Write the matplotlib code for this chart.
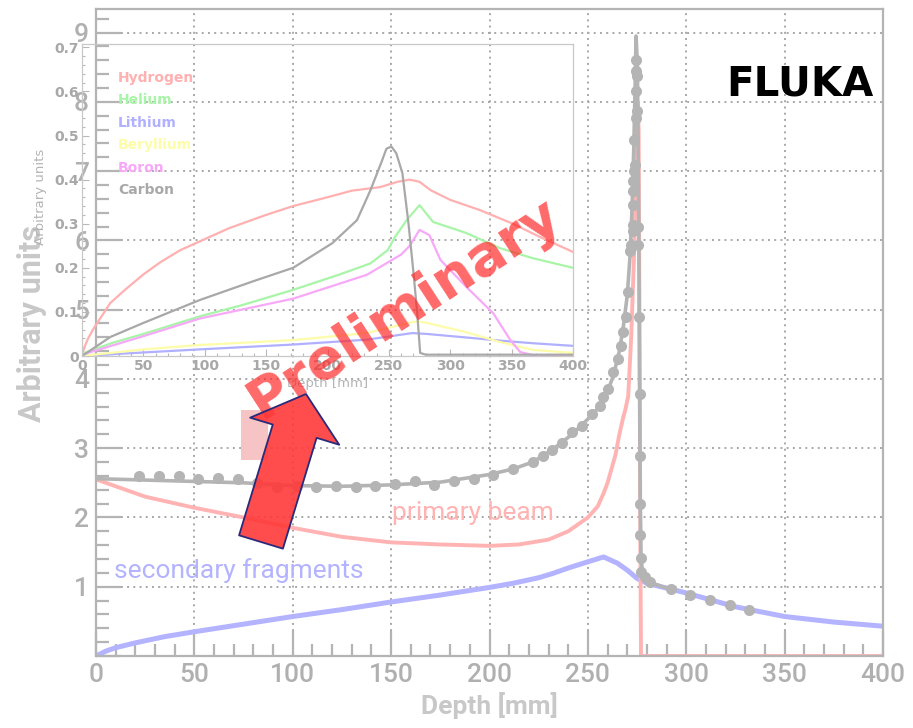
import numpy as np
import matplotlib
matplotlib.use("Agg")
import matplotlib.pyplot as plt
from matplotlib.ticker import MultipleLocator, FuncFormatter
from matplotlib.patches import FancyArrowPatch, Rectangle

# ---- main plot data (depth in mm, arbitrary units) ----
primary_depth = [0, 25, 50, 75, 100, 125, 150, 175, 200, 215, 230, 240, 250, 255, 258, 260, 262,
                 264, 266, 268, 269, 270.5, 272, 273.5, 274.5, 275.3, 275.8, 276.2, 276.7,
                 277, 300, 400]
primary_value = [2.55, 2.3, 2.14, 2.0, 1.85, 1.72, 1.64, 1.61, 1.59, 1.61, 1.68, 1.8, 2.0, 2.16,
                 2.35, 2.5, 2.7, 2.9, 3.2, 3.45, 3.55, 3.75, 4.6, 5.8, 7.0, 8.0, 7.6, 5.0, 1.5,
                 0.0, 0.0, 0.0]

secondary_depth = [0, 5, 10, 20, 35, 50, 75, 100, 125, 150, 175, 200, 212, 225, 232, 240, 250,
                   258, 265, 270, 275, 280, 290, 300, 325, 350, 375, 400]
secondary_value = [0, 0.07, 0.12, 0.19, 0.28, 0.35, 0.46, 0.57, 0.67, 0.78, 0.88, 0.99, 1.05,
                   1.13, 1.19, 1.27, 1.36, 1.43, 1.34, 1.24, 1.12, 1.05, 0.98, 0.91, 0.71, 0.57,
                   0.49, 0.43]

total_depth = [0, 25, 50, 75, 100, 125, 150, 175, 200, 212, 222, 232, 242, 250, 256, 260, 263,
               266, 268, 270, 271.5, 272.5, 273.3, 274, 274.5, 275.2, 275.8, 276.3, 276.6,
               277, 278, 280, 283, 288, 292]
total_value = [2.56, 2.54, 2.52, 2.50, 2.46, 2.45, 2.47, 2.51, 2.62, 2.70, 2.80, 2.98, 3.2,
               3.42, 3.6, 3.82, 4.05, 4.4, 4.75, 5.2, 5.8, 6.5, 7.3, 8.2, 8.95, 8.5, 6.5, 4.0,
               2.2, 1.4, 1.18, 1.1, 1.05, 1.0, 0.97]

meas_depth = [22, 32, 42, 52, 62, 72, 82, 92, 102, 112, 122, 132, 142, 152, 162, 172, 182, 192,
              202, 212, 222, 227, 232, 237, 242, 247, 252, 256, 257.7, 260.2, 262.8, 265.3,
              266.8, 267.8, 269.4, 270.4, 271.4, 271.9, 272.9, 272.9, 272.9, 272.9, 272.9,
              273.4, 273.9, 273.4, 274.5, 275.0, 274.5, 275.0, 274.5, 274.5, 275.5, 275.5,
              276.0, 276.3, 276.5, 276.5, 276.5, 276.8, 277.2, 279, 281.5, 292, 302, 312,
              322, 332]
meas_value = [2.60, 2.60, 2.60, 2.56, 2.57, 2.56, 2.50, 2.44, 2.45, 2.44, 2.46, 2.44, 2.46,
              2.48, 2.52, 2.47, 2.52, 2.55, 2.62, 2.70, 2.80, 2.88, 2.98, 3.08, 3.23, 3.32,
              3.49, 3.61, 3.74, 3.86, 4.10, 4.29, 4.48, 4.68, 4.90, 5.26, 5.84, 5.93, 6.13,
              6.22, 6.51, 6.71, 6.86, 7.00, 7.09, 7.45, 7.77, 7.87, 8.16, 8.38, 8.45, 8.61,
              6.20, 5.93, 4.90, 3.78, 2.88, 2.19, 1.75, 1.42, 1.21, 1.14, 1.07, 0.97, 0.88,
              0.81, 0.73, 0.67]

# ---- inset data: fragments by species ----
h_depth = [0, 2, 5, 10, 15, 23, 35, 50, 64, 80, 100, 120, 150, 172, 200, 220, 243, 257, 267,
           275, 284, 300, 324, 351, 373, 400]
h_value = [0, 0.02, 0.04, 0.065, 0.086, 0.12, 0.15, 0.185, 0.213, 0.24, 0.265, 0.29, 0.32,
           0.34, 0.36, 0.375, 0.383, 0.395, 0.40, 0.395, 0.376, 0.354, 0.331, 0.30, 0.27, 0.236]
he_depth = [0, 25, 50, 96, 130, 172, 210, 235, 249, 255, 265, 275, 286, 313, 340, 367, 400]
he_value = [0.005, 0.03, 0.05, 0.09, 0.115, 0.15, 0.185, 0.21, 0.24, 0.27, 0.31, 0.342, 0.304,
            0.279, 0.245, 0.222, 0.2]
li_depth = [0, 50, 96, 172, 232, 269, 281, 313, 340, 367, 400]
li_value = [0, 0.008, 0.015, 0.026, 0.037, 0.052, 0.05, 0.042, 0.035, 0.029, 0.023]
be_depth = [0, 50, 96, 172, 232, 269, 275, 281, 313, 340, 367, 400]
be_value = [0, 0.015, 0.025, 0.036, 0.052, 0.077, 0.078, 0.075, 0.054, 0.032, 0.014, 0.007]
b_depth = [0, 50, 96, 172, 232, 260, 267, 275, 283, 292, 313, 335, 349, 357, 370, 400]
b_value = [0.003, 0.045, 0.085, 0.13, 0.184, 0.23, 0.25, 0.286, 0.274, 0.218, 0.157, 0.097,
           0.036, 0.009, 0.0, 0.0]
c_depth = [0, 23, 50, 96, 140, 172, 204, 224, 235, 244, 248, 252, 256, 261, 266, 270, 273,
           275.5, 280, 400]
c_value = [0, 0.043, 0.075, 0.127, 0.17, 0.2, 0.256, 0.308, 0.376, 0.44, 0.47, 0.475, 0.46,
           0.415, 0.3, 0.19, 0.1, 0.007, 0.003, 0.003]

species = ["Hydrogen", "Helium", "Lithium", "Beryllium", "Boron", "Carbon"]
species_colors = ["#ffb0b0", "#a8f5a8", "#b0b0ff", "#fdfca8", "#f8a8f8", "#a8a8a8"]

narrow = ["Roboto", "DejaVu Sans"]
grey = "#b4b4b4"

fig = plt.figure(figsize=(9.13, 7.28), dpi=100)

# main axes
ax = fig.add_axes([96 / 913, 72 / 728, 787 / 913, 647 / 728])
ax.set_xlim(0, 400)
ax.set_ylim(0, 9.34)
ax.xaxis.set_major_locator(MultipleLocator(50))
ax.xaxis.set_minor_locator(MultipleLocator(10))
ax.yaxis.set_major_locator(MultipleLocator(1))
ax.yaxis.set_minor_locator(MultipleLocator(0.2))
ax.tick_params(which="both", direction="in", color=grey, width=1.6, top=False, right=False)
ax.tick_params(which="major", length=18, labelsize=19, labelcolor="#b0b0b0", pad=5)
ax.tick_params(which="minor", length=9)
ax.yaxis.set_major_formatter(FuncFormatter(lambda v, p: "" if v == 0 else f"{v:g}"))
for lab in ax.get_xticklabels() + ax.get_yticklabels():
    lab.set_family(narrow)
    lab.set_fontweight("medium")
for s in ax.spines.values():
    s.set_color(grey)
    s.set_linewidth(1.6)
ax.grid(True, which="major", color="#a8a8a8", linestyle=(0, (1, 2.2)), linewidth=1.4)

ax.plot(secondary_depth, secondary_value, color="#b3b3ff", lw=3.6, solid_capstyle="butt")
ax.plot(primary_depth, primary_value, color="#ffb3b3", lw=2.8)
ax.plot(total_depth, total_value, color="#b4b4b4", lw=2.6)
ax.plot(meas_depth, meas_value, "o", color="#b4b4b4", ms=8, mec="none")

fig.text(32 / 913, 1 - 324 / 728, "Arbitrary units", rotation=90, ha="center", va="center",
         fontsize=22, color="#c8c8c8", fontweight="bold", family=narrow)
fig.text(489 / 913, 1 - 706 / 728, "Depth [mm]", ha="center", va="center",
         fontsize=19, color="#c8c8c8", fontweight="bold", family=narrow)
fig.text(473 / 913, 1 - 513 / 728, "primary beam", ha="center", va="center", fontsize=19,
         color="#ffb3b3", family=narrow)
fig.text(239 / 913, 1 - 571 / 728, "secondary fragments", ha="center", va="center",
         fontsize=19, color="#b3b3ff", family=narrow)
fig.text(800 / 913, 1 - 85 / 728, "FLUKA", ha="center", va="center", fontsize=29,
         fontweight="bold", color="black")

# inset
ins = fig.add_axes([82 / 913, 1 - 356 / 728, 491 / 913, 312 / 728])
ins.patch.set_alpha(0)
ins.set_xlim(0, 400)
ins.set_ylim(0, 0.7075)
ins.xaxis.set_major_locator(MultipleLocator(50))
ins.xaxis.set_minor_locator(MultipleLocator(10))
ins.yaxis.set_major_locator(MultipleLocator(0.1))
ins.yaxis.set_minor_locator(MultipleLocator(0.02))
ins.tick_params(which="both", direction="in", color="#b8b8b8", width=0.8, top=False, right=False)
ins.tick_params(which="major", length=5, labelsize=10, labelcolor="#a8a8a8", pad=2)
ins.tick_params(which="minor", length=2.5)
ins.yaxis.set_major_formatter(FuncFormatter(lambda v, p: f"{v:g}"))
for lab in ins.get_xticklabels() + ins.get_yticklabels():
    lab.set_fontweight("bold")
for s in ins.spines.values():
    s.set_color("#c8c8c8")
    s.set_linewidth(0.9)

series = [(h_depth, h_value), (he_depth, he_value), (li_depth, li_value),
          (be_depth, be_value), (b_depth, b_value), (c_depth, c_value)]
for (d, v), col in zip(series, species_colors):
    ins.plot(d, v, color=col, lw=1.6)
for i, (name, col) in enumerate(zip(species, species_colors)):
    ins.text(0.073, 0.891 - i * 0.072, name, transform=ins.transAxes, ha="left", va="center",
             fontsize=10, fontweight="bold", color=col)

fig.text(40 / 913, 1 - 197 / 728, "Arbitrary units", rotation=90, ha="center", va="center",
         fontsize=9.5, color="#b4b4b4")
fig.text(328 / 913, 1 - 383 / 728, "Depth [mm]", ha="center", va="center",
         fontsize=9.5, color="#b4b4b4")

# overlay decorations
fig.add_artist(Rectangle((241 / 913, 1 - 460 / 728), 27 / 913, 50 / 728,
                         transform=fig.transFigure, facecolor="#f6c4c4", edgecolor="none",
                         zorder=4))
fig.text(405 / 913, 1 - 308 / 728, "Preliminary", rotation=33, ha="center", va="center",
         fontsize=40, fontweight="bold", color="#ff2a2a", alpha=0.7, zorder=5)
arrow = FancyArrowPatch((261 / 913, 1 - 542 / 728), (306 / 913, 1 - 394 / 728),
                        transform=fig.transFigure,
                        arrowstyle="simple,head_length=28,head_width=67,tail_width=33",
                        mutation_scale=1, shrinkA=0, shrinkB=0,
                        facecolor=(1, 0.22, 0.22, 0.9), edgecolor="#2a2a7a", lw=1.3, zorder=6)
fig.add_artist(arrow)

fig.savefig("out.png", dpi=100)
